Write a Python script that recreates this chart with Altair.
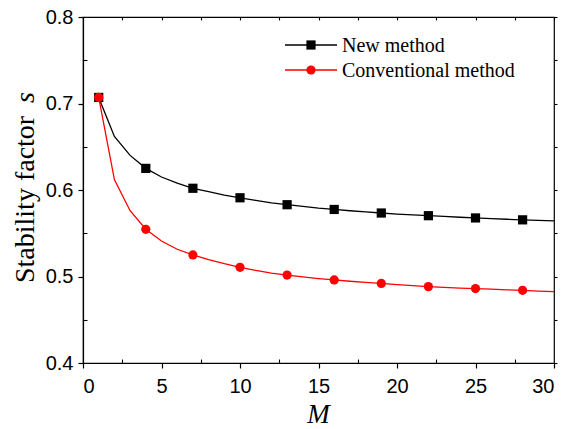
import altair as alt
import pandas as pd

# ---- data ----
M = list(range(1, 31))
new_method = [0.707, 0.662, 0.640, 0.625, 0.615, 0.608, 0.602, 0.598, 0.594, 0.591,
              0.588, 0.585, 0.583, 0.581, 0.579, 0.5775, 0.576, 0.5747, 0.5734, 0.5722,
              0.5712, 0.5703, 0.5694, 0.5685, 0.5677, 0.567, 0.5662, 0.5655, 0.5648, 0.5642]
conventional = [0.707, 0.612, 0.576, 0.5546, 0.541, 0.5315, 0.5249, 0.5195, 0.5148, 0.5106,
                0.507, 0.504, 0.5017, 0.4995, 0.4976, 0.496, 0.4945, 0.4932, 0.492, 0.4907,
                0.4895, 0.4883, 0.4874, 0.4866, 0.486, 0.4853, 0.4846, 0.484, 0.4832, 0.4825]
marker_M = [1, 4, 7, 10, 13, 16, 19, 22, 25, 28]
series_names = ["New method", "Conventional method"]
series_colors = ["#000000", "#ff0000"]
series_shapes = ["square", "circle"]
x_ticks = [0, 5, 10, 15, 20, 25, 30]
x_minor = [2.5, 7.5, 12.5, 17.5, 22.5, 27.5]
y_ticks = [0.4, 0.5, 0.6, 0.7, 0.8]
y_minor = [0.45, 0.55, 0.65, 0.75]
x_all = sorted(x_ticks + x_minor)
y_all = sorted(y_ticks + y_minor)

df = pd.DataFrame({
    "M": M * 2,
    "s": new_method + conventional,
    "series": [series_names[0]] * len(M) + [series_names[1]] * len(M),
})
df["marker"] = df["M"].isin(marker_M)

W, H = 471, 346
SANS = "Liberation Sans"
SERIF = "Liberation Serif"

xs = alt.Scale(domain=[0, 30], nice=False, zero=False)
ys = alt.Scale(domain=[0.4, 0.8], nice=False, zero=False)
cs = alt.Scale(domain=series_names, range=series_colors)
ss = alt.Scale(domain=series_names, range=series_shapes)

base = alt.Chart(df)

main_x_axis = alt.Axis(values=x_ticks, format="d", title=None, tickSize=5, tickColor="black",
                       tickWidth=1.2, domain=True, domainColor="black", domainWidth=1.2,
                       labelFont=SANS, labelFontSize=20, labelColor="black", labelPadding=8,
                       grid=False, orient="bottom")
main_y_axis = alt.Axis(values=y_ticks, format=".1f", title=None, tickSize=5, tickColor="black",
                       tickWidth=1.2, domain=True, domainColor="black", domainWidth=1.2,
                       labelFont=SANS, labelFontSize=20, labelColor="black", labelPadding=5,
                       grid=False, orient="left")

lines = base.mark_line(strokeWidth=1.3).encode(
    x=alt.X("M:Q", scale=xs, axis=main_x_axis),
    y=alt.Y("s:Q", scale=ys, axis=main_y_axis),
    color=alt.Color("series:N", scale=cs, legend=None),
    order="M:Q",
)

points = base.transform_filter(alt.datum.marker).mark_point(filled=True, opacity=1, size=85).encode(
    x=alt.X("M:Q", scale=xs, axis=None),
    y=alt.Y("s:Q", scale=ys, axis=None),
    color=alt.Color("series:N", scale=cs, legend=None),
    shape=alt.Shape("series:N", scale=ss, legend=None),
)


def tick_axis(values, orient, size, offset=0):
    return alt.Axis(values=values, orient=orient, offset=offset, labels=False, title=None,
                    domain=False, grid=False, tickSize=size, tickColor="black", tickWidth=1.1)


def x_axis_layer(ax):
    return base.mark_point(opacity=0).encode(
        x=alt.X("M:Q", scale=xs, axis=ax), y=alt.Y("s:Q", scale=ys, axis=None))


def y_axis_layer(ax):
    return base.mark_point(opacity=0).encode(
        x=alt.X("M:Q", scale=xs, axis=None), y=alt.Y("s:Q", scale=ys, axis=ax))


bottom_inner = x_axis_layer(tick_axis(x_minor, "top", 4, -H))
top_inner = x_axis_layer(tick_axis(x_all, "bottom", 3, -H))
left_inner = y_axis_layer(tick_axis(y_minor, "right", 4, -W))
right_outer = y_axis_layer(tick_axis(y_all, "right", 3))

# ---- legend (drawn by hand, top right) ----
leg = alt.Chart(pd.DataFrame({"series": series_names}))
legend_layers = []
for i, name in enumerate(series_names):
    yv = 28 + 25 * i
    sub = leg.transform_filter(alt.datum.series == name)
    legend_layers.append(sub.mark_rule(color=series_colors[i], strokeWidth=1.3).encode(
        x=alt.value(202), x2=alt.value(254), y=alt.value(yv)))
    legend_layers.append(sub.mark_point(filled=True, opacity=1, size=85, shape=series_shapes[i],
                                        color=series_colors[i]).encode(
        x=alt.value(228), y=alt.value(yv)))
    legend_layers.append(sub.mark_text(align="left", baseline="middle", font=SERIF, fontSize=20,
                                       color="black").encode(
        x=alt.value(259), y=alt.value(yv + 1), text="series:N"))

# ---- axis titles ----
title_df = alt.Chart(pd.DataFrame({"t": ["Stability factor", "s", "M"]}))
y_title = title_df.transform_filter(alt.datum.t == "Stability factor").mark_text(
    angle=270, align="left", baseline="alphabetic", font=SERIF, fontSize=28, color="black").encode(
    x=alt.value(-49), y=alt.value(266), text="t:N")
y_title_s = title_df.transform_filter(alt.datum.t == "s").mark_text(
    angle=270, align="right", baseline="alphabetic", font=SERIF, fontSize=28, fontStyle="italic",
    color="black").encode(x=alt.value(-49), y=alt.value(75), text="t:N")
x_title = title_df.transform_filter(alt.datum.t == "M").mark_text(
    align="center", baseline="alphabetic", font=SERIF, fontSize=27, fontStyle="italic",
    color="black").encode(x=alt.value(W / 2), y=alt.value(406), text="t:N")

chart = alt.layer(
    lines, points, bottom_inner, top_inner, left_inner, right_outer,
    *legend_layers, y_title, y_title_s, x_title,
).resolve_axis(x="independent", y="independent").properties(
    width=W, height=H,
    autosize=alt.AutoSizeParams(type="none"),
    padding={"left": 83, "top": 17, "right": 20, "bottom": 66},
    background="white",
).configure_view(stroke="black", strokeWidth=1.2)

chart.save("out.html", embed_options={"renderer": "svg", "actions": False})
